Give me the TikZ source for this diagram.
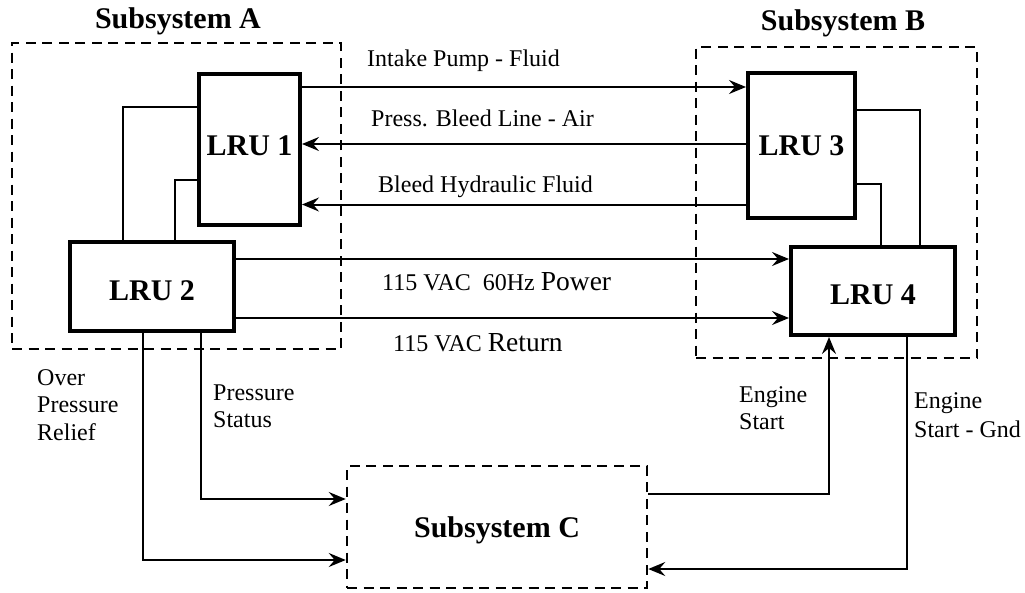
\documentclass[tikz,border=0pt]{standalone}
\usepackage{fontspec}
\setmainfont{Liberation Serif}
\usetikzlibrary{arrows.meta}
\begin{document}
\begin{tikzpicture}[x=1pt,y=-1pt,
  lru/.style={draw,line width=4pt,inner sep=0pt,font=\bfseries\fontsize{30}{36}\selectfont},
  group/.style={draw,dashed,line width=2.5pt,dash pattern=on 10pt off 6.5pt,inner sep=0pt},
  title/.style={font=\bfseries\fontsize{30}{36}\selectfont,anchor=base},
  lbl/.style={font=\fontsize{24}{27.5}\selectfont,anchor=base west,inner sep=0pt,align=left},
  wire/.style={line width=2pt},
  arr/.style={line width=2pt,-{Stealth[length=17pt,width=14pt,inset=6pt]}}]
\useasboundingbox (0,0) rectangle (1025,592);
% containers
\node[group,minimum width=329pt,minimum height=306pt] (A) at (176.5,196) {};
\node[group,minimum width=281pt,minimum height=311pt] (B) at (836.5,202.5) {};
\node[group,minimum width=300pt,minimum height=122pt,text height=20pt,text depth=0pt,font=\bfseries\fontsize{30}{36}\selectfont] (C) at (497,527) {Subsystem C};
\node[title] (tA) at (178,28) {Subsystem A};
\node[title] (tB) at (843,30) {Subsystem B};
% LRUs
\node[lru,minimum width=101pt,minimum height=151pt,text height=20pt,text depth=9pt] (L1) at (249.5,149.5) {LRU 1};
\node[lru,minimum width=164pt,minimum height=89pt,text height=27pt,text depth=0pt] (L2) at (152,286.5) {LRU 2};
\node[lru,minimum width=107pt,minimum height=145pt,text height=20pt,text depth=1pt] (L3) at (801.5,145.5) {LRU 3};
\node[lru,minimum width=164pt,minimum height=88pt,text height=26pt,text depth=0pt] (L4) at (873,291) {LRU 4};
% internal wires
\draw[wire] (L2.north -| 123,0) |- (L1.west |- 0,107);
\draw[wire] (L2.north -| 175,0) |- (L1.west |- 0,180);
\draw[wire] (L3.east |- 0,110) -| (L4.north -| 920,0);
\draw[wire] (L3.east |- 0,184) -| (L4.north -| 881,0);
% A <-> B
\draw[arr] (L1.east |- 0,87) -- (L3.west |- 0,87);
\draw[arr] (L3.west |- 0,144) -- (L1.east |- 0,144);
\draw[arr] (L3.west |- 0,204.5) -- (L1.east |- 0,204.5);
\draw[arr] (L2.east |- 0,259) -- (L4.west |- 0,259);
\draw[arr] (L2.east |- 0,318) -- (L4.west |- 0,318);
% to / from C
\draw[arr] (L2.south -| 201,0) |- (C.west |- 0,499);
\draw[arr] (L2.south -| 143,0) |- (C.west |- 0,560);
\draw[arr] (C.east |- 0,494) -| (L4.south -| 829,0);
\draw[arr] (L4.south -| 907,0) |- (C.east |- 0,569);
% labels
\node[lbl] (l1) at (367,66) {Intake Pump - Fluid};
\node[lbl] (l2) at (371,126) {Press. Bleed Line - Air};
\node[lbl] (l3) at (378,192) {Bleed Hydraulic Fluid};
\node[lbl] (l4) at (382,290) {115 VAC\ \ 60Hz {\fontsize{27.5}{30}\selectfont Power}};
\node[lbl] (l5) at (393,351) {115 VAC {\fontsize{27.5}{30}\selectfont Return}};
\node[lbl] (l6) at (37,440) {Over\\Pressure\\Relief};
\node[lbl,font=\fontsize{24}{27}\selectfont] (l7) at (213,427) {Pressure\\Status};
\node[lbl,font=\fontsize{24}{27}\selectfont] (l8) at (739,429) {Engine\\Start};
\node[lbl,font=\fontsize{24}{28.5}\selectfont] (l9) at (914,437) {Engine\\Start - Gnd};
\end{tikzpicture}
\end{document}
